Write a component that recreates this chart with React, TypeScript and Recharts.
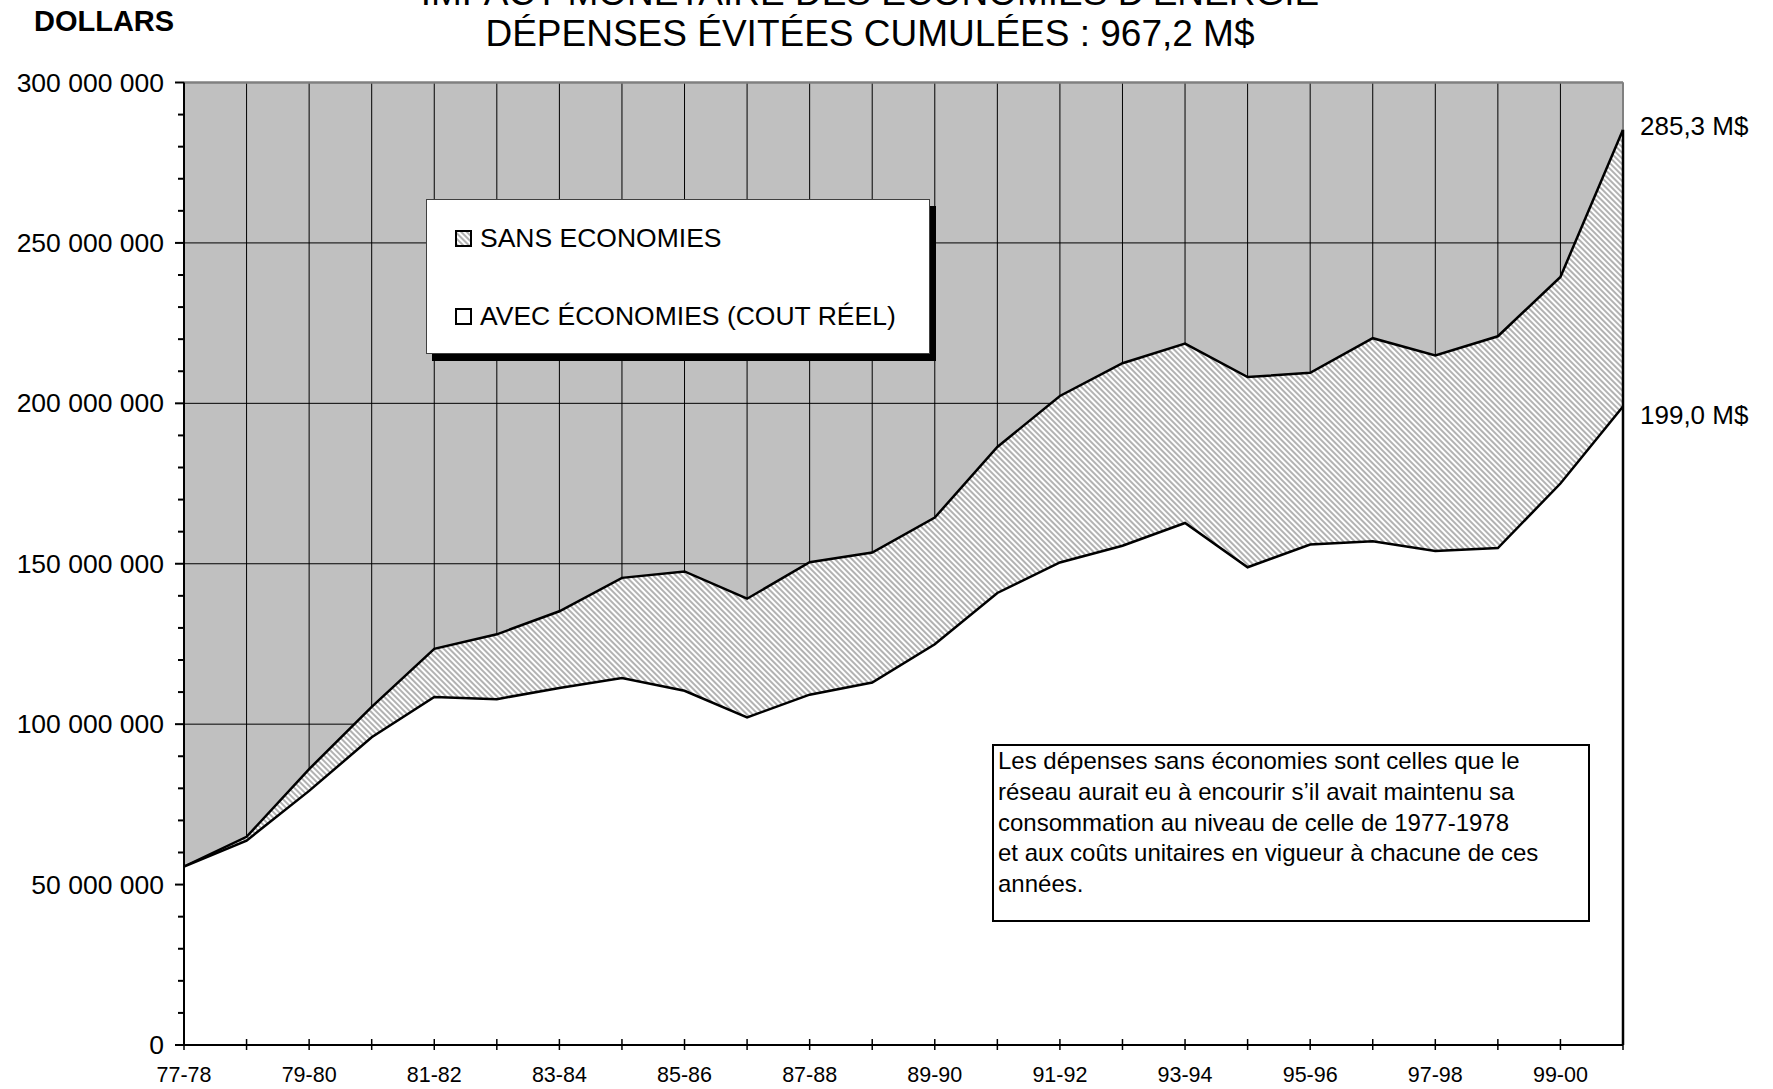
import { AreaChart, Area, XAxis, YAxis, CartesianGrid, ReferenceLine, Legend } from 'recharts';

// années financières
const categories = [
  '77-78', '78-79', '79-80', '80-81', '81-82', '82-83', '83-84', '84-85',
  '85-86', '86-87', '87-88', '88-89', '89-90', '90-91', '91-92', '92-93',
  '93-94', '94-95', '95-96', '96-97', '97-98', '98-99', '99-00', '00-01',
];

// millions de dollars
const sansEconomies = [
  55.6, 64.9, 86.0, 105.4, 123.5, 128.0, 135.2, 145.6, 147.6, 139.1, 150.5, 153.5,
  164.4, 186.4, 202.3, 212.5, 218.6, 208.2, 209.5, 220.3, 214.9, 220.9, 239.4, 285.3,
];
const avecEconomies = [
  55.6, 63.7, 79.2, 95.9, 108.5, 107.8, 111.3, 114.4, 110.4, 102.1, 109.2, 113.0,
  124.9, 140.9, 150.4, 155.6, 162.7, 148.9, 156.0, 157.0, 154.0, 154.9, 175.0, 199.0,
];

const majorTicks = [0, 50e6, 100e6, 150e6, 200e6, 250e6, 300e6];
const allTicks = Array.from({ length: 31 }, (_, i) => i * 10e6);

const noteLines = [
  'Les dépenses sans économies sont celles que le',
  'réseau aurait eu à encourir s’il avait maintenu sa',
  'consommation au niveau de celle de 1977-1978',
  'et aux coûts unitaires en vigueur à chacune de ces',
  'années.',
];

const data = categories.map((c, i) => ({
  annee: c,
  sans: sansEconomies[i] * 1e6,
  avec: avecEconomies[i] * 1e6,
}));

const FONT = '"Liberation Sans", Arial, sans-serif';
const last = categories.length - 1;
const legendOrder = ['sans', 'avec'];

const fmtDollars = (v: number) => String(v).replace(/\B(?=(\d{3})+(?!\d))/g, ' ');
const fmtM = (v: number) => `${v.toFixed(1).replace('.', ',')} M$`;

const YTick = ({ x, y, payload }: any) => {
  const major = payload.value % 50e6 === 0;
  return (
    <g>
      <line x1={x - (major ? 9 : 6)} x2={x} y1={y} y2={y} stroke="#000" strokeWidth={2} />
      {major && (
        <text x={x - 20} y={y + 9} textAnchor="end" fontSize={26.5} fontFamily={FONT} fill="#000">
          {fmtDollars(payload.value)}
        </text>
      )}
    </g>
  );
};

const XTick = ({ x, y, payload }: any) => {
  const idx = categories.indexOf(payload.value);
  return (
    <g>
      <line x1={x} x2={x} y1={y - 6} y2={y + 5} stroke="#000" strokeWidth={1.5} />
      {idx % 2 === 0 && (
        <text x={x} y={y + 37} textAnchor="middle" fontSize={21.5} fontFamily={FONT} fill="#000">
          {payload.value}
        </text>
      )}
    </g>
  );
};

const endLabel = (values: number[], dy: number) => (props: any) => {
  if (props.index !== last) return null;
  return (
    <text x={props.x + 17} y={props.y + dy} fontSize={26} fontFamily={FONT} fill="#000">
      {fmtM(values[last])}
    </text>
  );
};

const LegendBox = ({ payload }: any) => {
  const items = [...(payload || [])].sort(
    (a: any, b: any) => legendOrder.indexOf(a.dataKey) - legendOrder.indexOf(b.dataKey)
  );
  return (
    <div
      style={{
        width: 504,
        height: 155,
        boxSizing: 'border-box',
        background: '#fff',
        border: '1px solid #404040',
        boxShadow: '6px 7px 0 #000',
        position: 'relative',
        fontFamily: FONT,
        fontSize: 26.5,
        color: '#000',
      }}
    >
      {items.map((entry: any, i: number) => (
        <div
          key={entry.value}
          style={{ position: 'absolute', left: 28, top: (i === 0 ? 38 : 116) - 18, height: 36, display: 'flex', alignItems: 'center', whiteSpace: 'nowrap' }}
        >
          <svg width={17} height={17} style={{ marginRight: 8 }}>
            <rect x={1} y={1} width={15} height={15} fill={entry.dataKey === 'sans' ? 'url(#hatch)' : '#fff'} stroke="#000" strokeWidth={2} />
          </svg>
          {entry.value}
        </div>
      ))}
    </div>
  );
};

const App = () => {
  return (
    <div style={{ position: 'absolute', left: 0, top: 0, width: 1773, height: 1089, overflow: 'hidden', background: '#fff', fontFamily: FONT }}>
      <div style={{ position: 'absolute', left: 0, top: -29, width: 1740, textAlign: 'center', fontSize: 37, lineHeight: '44px' }}>
        IMPACT MONÉTAIRE DES ÉCONOMIES D’ÉNERGIE
      </div>
      <div style={{ position: 'absolute', left: 0, top: 12, width: 1740, textAlign: 'center', fontSize: 37, lineHeight: '44px' }}>
        DÉPENSES ÉVITÉES CUMULÉES : 967,2 M$
      </div>
      <div style={{ position: 'absolute', left: 34, top: 4, fontSize: 29, fontWeight: 'bold', lineHeight: '34px' }}>DOLLARS</div>

      <AreaChart width={1773} height={1089} data={data} margin={{ top: 82.5, right: 150, bottom: 0, left: 0 }}>
        <defs>
          <pattern id="hatch" patternUnits="userSpaceOnUse" width={4} height={4} patternTransform="rotate(45)">
            <rect width={4} height={4} fill="#fff" />
            <rect width={4} height={2} fill="#b2b2b2" />
          </pattern>
        </defs>
        <CartesianGrid fill="#c0c0c0" fillOpacity={1} stroke="#000" strokeWidth={1} horizontalValues={majorTicks} />
        <XAxis
          dataKey="annee"
          interval={0}
          height={44}
          tickSize={0}
          tickMargin={0}
          tickLine={false}
          tick={<XTick />}
          axisLine={{ stroke: '#000', strokeWidth: 2 }}
        />
        <YAxis
          width={184}
          domain={[0, 300e6]}
          ticks={allTicks}
          interval={0}
          tickSize={0}
          tickMargin={0}
          tickLine={false}
          tick={<YTick />}
          axisLine={{ stroke: '#000', strokeWidth: 2 }}
        />
        <Area
          type="linear"
          dataKey="sans"
          name="SANS ECONOMIES"
          fill="url(#hatch)"
          fillOpacity={1}
          stroke="#000"
          strokeWidth={2.5}
          isAnimationActive={false}
          label={endLabel(sansEconomies, 5)}
        />
        <Area
          type="linear"
          dataKey="avec"
          name="AVEC ÉCONOMIES (COUT RÉEL)"
          fill="#fff"
          fillOpacity={1}
          stroke="#000"
          strokeWidth={2.5}
          isAnimationActive={false}
          label={endLabel(avecEconomies, 17)}
        />
        <ReferenceLine y={300e6} stroke="#808080" strokeWidth={2.5} />
        <ReferenceLine x={categories[last]} stroke="#808080" strokeWidth={2} />
        <ReferenceLine
          segment={[{ x: categories[last], y: 0 }, { x: categories[last], y: sansEconomies[last] * 1e6 }]}
          stroke="#000"
          strokeWidth={2.5}
        />
        <Legend
          layout="vertical"
          align="center"
          verticalAlign="middle"
          content={<LegendBox />}
          wrapperStyle={{ position: 'absolute', left: 426, top: 199, width: 504, height: 155 }}
        />
      </AreaChart>

      <div
        style={{
          position: 'absolute',
          left: 992,
          top: 744,
          width: 598,
          height: 178,
          boxSizing: 'border-box',
          border: '2px solid #000',
          padding: '0 0 0 4px',
          fontSize: 24,
          lineHeight: '30.8px',
          background: '#fff',
          whiteSpace: 'nowrap',
        }}
      >
        {noteLines.map((l) => (
          <div key={l}>{l}</div>
        ))}
      </div>
    </div>
  );
};

export default App;
